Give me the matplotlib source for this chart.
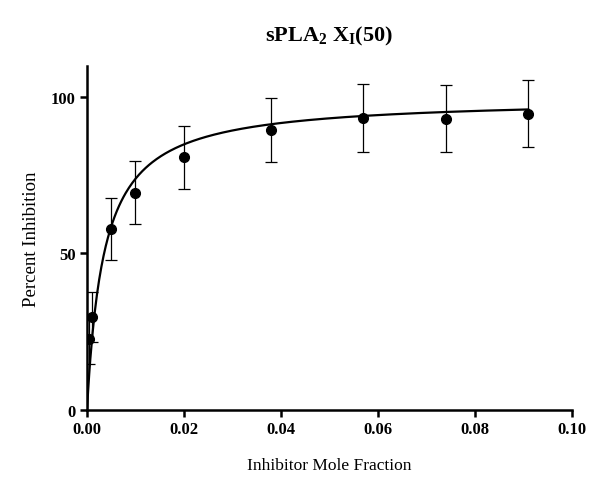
import numpy as np
import matplotlib.pyplot as plt

plt.rcParams['font.family'] = 'Liberation Serif'
plt.rcParams['mathtext.fontset'] = 'custom'
plt.rcParams['mathtext.rm'] = 'Liberation Serif:bold'
plt.rcParams['mathtext.it'] = 'Liberation Serif:bold'
plt.rcParams['mathtext.bf'] = 'Liberation Serif:bold'

# measured data
mole_frac = [0.0005, 0.001, 0.005, 0.01, 0.02, 0.038, 0.057, 0.074, 0.091]
inhibition = [22.8, 29.8, 57.8, 69.4, 80.7, 89.5, 93.3, 93.1, 94.7]
err = [8, 8, 10, 10, 10, 10.3, 10.8, 10.7, 10.7]

# hyperbolic fit
i_max = 99.7
k_half = 0.0035

fig = plt.figure(figsize=(6, 4.85), dpi=100)
ax = fig.add_axes([0.145, 0.1526, 0.808, 0.71])

xf = np.linspace(0, 0.091, 400)
ax.plot(xf, i_max * xf / (k_half + xf), color='black', lw=1.6, zorder=2)
ax.errorbar(mole_frac, inhibition, yerr=err, fmt='o', color='black',
            ms=7, elinewidth=0.9, capsize=4, capthick=0.9, zorder=3)

ax.set_xlim(0, 0.10)
ax.set_ylim(0, 110)
ax.set_xticks([0.00, 0.02, 0.04, 0.06, 0.08, 0.10])
ax.set_xticklabels(['0.00', '0.02', '0.04', '0.06', '0.08', '0.10'])
ax.set_yticks([0, 50, 100])

for s in ['top', 'right']:
    ax.spines[s].set_visible(False)
for s in ['left', 'bottom']:
    ax.spines[s].set_linewidth(1.8)
ax.tick_params(width=1.8, length=5, labelsize=12, pad=3)
for lab in ax.get_xticklabels() + ax.get_yticklabels():
    lab.set_fontweight('bold')

ax.set_xlabel('Inhibitor Mole Fraction', fontsize=12.5, labelpad=14)
ax.set_ylabel('Percent Inhibition', fontsize=13.5, labelpad=8)
ax.set_title(r'sPLA$_2$ X$_I$(50)', fontsize=16, fontweight='bold', pad=18)

fig.savefig('out.png', dpi=100)
